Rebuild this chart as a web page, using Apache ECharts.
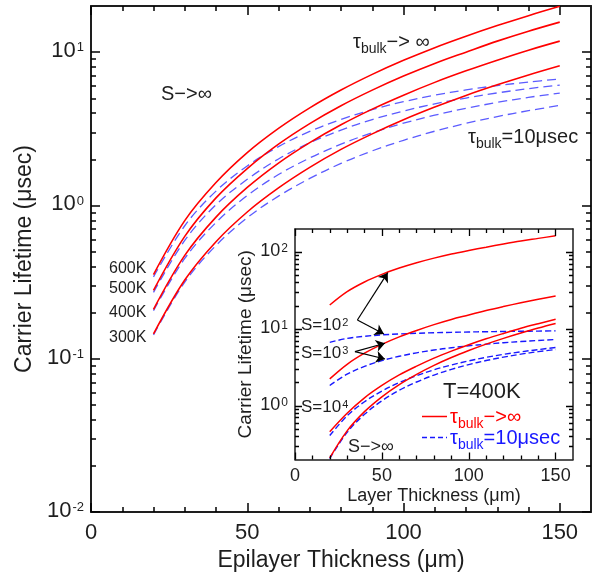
<!DOCTYPE html>
<html><head><meta charset="utf-8">
<script src="https://cdn.jsdelivr.net/npm/echarts@6/dist/echarts.min.js"></script>
<style>html,body{margin:0;padding:0;background:#fff}#c{width:592px;height:577px}</style>
</head><body><div id="c"></div>
<script>
const FONT = "'Liberation Sans', Arial, Helvetica, sans-serif";

// Epilayer thickness (µm)
const thickness = [20,30,40,50,60,70,80,90,100,110,120,130,140,150];

// Main plot, S -> infinity; tau_bulk -> infinity (solid red)
const red600 = [0.354,0.796,1.41,2.21,3.18,4.33,5.66,7.16,8.84,10.7,12.7,14.9,17.3,19.9];
const red500 = [0.279,0.628,1.12,1.74,2.51,3.42,4.47,5.65,6.98,8.44,10.0,11.8,13.7,15.7];
const red400 = [0.210,0.472,0.839,1.31,1.89,2.57,3.36,4.25,5.24,6.35,7.55,8.86,10.3,11.8];
const red300 = [0.145,0.326,0.580,0.906,1.30,1.77,2.32,2.93,3.62,4.38,5.22,6.12,7.10,8.15];
// tau_bulk = 10 µsec (dashed blue)
const blue600 = [0.342,0.737,1.24,1.81,2.42,3.04,3.64,4.22,4.75,5.24,5.67,6.05,6.38,6.68];
const blue500 = [0.271,0.591,1.01,1.48,2.01,2.56,3.10,3.63,4.13,4.60,5.02,5.42,5.78,6.10];
const blue400 = [0.206,0.451,0.774,1.16,1.59,2.04,2.51,2.98,3.44,3.88,4.30,4.70,5.07,5.41];
const blue300 = [0.143,0.316,0.548,0.831,1.15,1.50,1.88,2.27,2.66,3.05,3.43,3.80,4.15,4.49];

// Inset (T = 400K)
const insetRedS2  = [20.5,30.6,40.9,51.4,62.0,72.7,83.5,94.4,105,116,128,140,151,163];
const insetBlueS2 = [6.70,7.53,8.03,8.37,8.61,8.79,8.93,9.04,9.13,9.21,9.27,9.33,9.38,9.45];
const insetRedS3  = [2.24,3.47,4.84,6.31,7.89,9.57,11.4,13.3,15.2,17.4,19.6,21.9,24.3,26.8];
const insetBlueS3 = [1.84,2.58,3.26,3.87,4.41,4.89,5.32,5.70,6.04,6.34,6.62,6.86,7.08,7.30];
const insetRedS4  = [0.46,0.80,1.27,1.84,2.52,3.28,4.17,5.15,6.24,7.45,8.75,10.2,11.7,13.35];
const insetBlueS4 = [0.41,0.74,1.13,1.55,2.01,2.47,2.94,3.40,3.84,4.27,4.67,5.04,5.39,5.75];
const insetRedSinf  = [0.210,0.472,0.839,1.31,1.89,2.57,3.36,4.25,5.24,6.35,7.55,8.86,10.3,11.8];
const insetBlueSinf = [0.206,0.451,0.774,1.16,1.59,2.04,2.51,2.98,3.44,3.88,4.30,4.70,5.07,5.41];

// Inset arrows [from, to] in (thickness, lifetime)
const arrowsS2 = [[[35.9,13.1],[53.4,54]], [[35.9,13.1],[51.2,8.6]]];
const arrowsS3 = [[[34.5,5.06],[51.8,6.52]], [[34.5,5.06],[51.8,4.06]]];

// Ticks
const xMajor = [0,50,100,150];
const xMinor = [10,20,30,40,60,70,80,90,110,120,130,140];
const mainYMajor = [0.01,0.1,1,10];
const mainYMinor = [0.02,0.03,0.04,0.05,0.06,0.07,0.08,0.09,0.2,0.3,0.4,0.5,0.6,0.7,0.8,0.9,2,3,4,5,6,7,8,9];
const insetYMajor = [1,10,100];
const insetYMinor = [0.3,0.4,0.5,0.6,0.7,0.8,0.9,2,3,4,5,6,7,8,9,20,30,40,50,60,70,80,90];

const XMIN = 0, XMAX = 160, MAIN_YMIN = 0.01, MAIN_YMAX = 20, INSET_YMIN = 0.2, INSET_YMAX = 200;
const MAIN_GRID = {left:91, right:1, top:6, bottom:62};
const INSET_GRID = {left:295, right:19, top:229, bottom:117.5};
const W = 592, H = 577;

const pair = arr => thickness.map((x,i)=>[x,arr[i]]);
const INK = '#1e1e1e';
const RED = '#ff0000', MBLUE = '#5c5cff', IBLUE = '#1818ff';
const chart = echarts.init(document.getElementById('c'));

function xAx(grid, pos, lw, label, name, z) {
  return {type:'value', gridIndex:grid, position:pos, min:XMIN, max:XMAX, z:z,
    axisLine:{show:true, onZero:false, lineStyle:{color:INK, width:lw}}, axisTick:{show:false},
    axisLabel: label ? {show:true, customValues:xMajor, color:INK, fontFamily:FONT, fontSize:label.size, margin:label.margin} : {show:false},
    splitLine:{show:false},
    name: name ? name.text : '', nameLocation:'middle', nameGap: name ? name.gap : 15,
    nameTextStyle: name ? {fontSize:name.size, fontFamily:FONT, color:INK} : {}};
}
function yAx(grid, pos, min, max, lw, label, name, z, majors) {
  return {type:'log', gridIndex:grid, position:pos, min:min, max:max, z:z,
    axisLine:{show:true, onZero:false, lineStyle:{color:INK, width:lw}}, axisTick:{show:false},
    axisLabel: label ? {show:true, customValues:majors, color:INK, margin:7,
      formatter: v => '{b|10}{s|' + Math.round(Math.log10(v)) + '}',
      rich:{
        b:{fontSize:label.big, fontFamily:FONT, color:INK, lineHeight:label.big+2, verticalAlign:'top'},
        s:{fontSize:label.sup, fontFamily:FONT, color:INK, lineHeight:label.sup+1, verticalAlign:'top', padding:[1,0,0,1]}}} : {show:false},
    splitLine:{show:false},
    name: name ? name.text : '', nameLocation:'middle', nameGap: name ? name.gap : 15,
    nameTextStyle: name ? {fontSize:name.size, fontFamily:FONT, color:INK} : {}};
}

// Tick segments in data space (length converted from pixels via the grid size)
function tickSegments(g, ymin, ymax, yMaj, yMin, majLen, minLen) {
  const pxPerX = (W - g.left - g.right) / (XMAX - XMIN);
  const pxPerDec = (H - g.top - g.bottom) / Math.log10(ymax / ymin);
  const segs = [];
  const xt = (v, L) => {
    const f = Math.pow(10, L / pxPerDec);
    segs.push({coords:[[v, ymin], [v, ymin * f]]});
    segs.push({coords:[[v, ymax], [v, ymax / f]]});
  };
  const yt = (v, L) => {
    const dx = L / pxPerX;
    segs.push({coords:[[XMIN, v], [XMIN + dx, v]]});
    segs.push({coords:[[XMAX, v], [XMAX - dx, v]]});
  };
  xMajor.forEach(v => xt(v, majLen)); xMinor.forEach(v => xt(v, minLen));
  yMaj.forEach(v => yt(v, majLen)); yMin.forEach(v => yt(v, minLen));
  return segs;
}
function tickSeries(ai, data, z, lw) {
  return {type:'lines', coordinateSystem:'cartesian2d', xAxisIndex:ai, yAxisIndex:ai, z:z,
    symbol:'none', large:false, silent:true, animation:false,
    lineStyle:{color:'#000', width:lw, opacity:1, curveness:0}, data:data};
}
function line(data, color, width, dash, ai, z) {
  return {type:'line', data:pair(data), xAxisIndex:ai, yAxisIndex:ai, smooth:0.35,
    showSymbol:false, z:z, animation:false,
    lineStyle:{color:color, width:width, type: dash || 'solid'}};
}

function txt(x, y, text, size, fill, rich) {
  const st = {text:text, fontSize:size, fontFamily:FONT, fill:fill || INK, align:'left', verticalAlign:'middle'};
  if (rich) st.rich = rich;
  return {type:'text', x:x, y:y, z:20, style:st};
}
function tauRich(big, sub, pad, fill) {
  return {
    t:{fontSize:big, fontFamily:FONT, fill:fill, lineHeight:big+2, verticalAlign:'top'},
    b:{fontSize:sub, fontFamily:FONT, fill:fill, lineHeight:sub+2, verticalAlign:'top', padding:[pad,0,0,0]}
  };
}
function supRich(big, sup, fill) {
  return {
    t:{fontSize:big, fontFamily:FONT, fill:fill, lineHeight:big+2, verticalAlign:'top'},
    s:{fontSize:sup, fontFamily:FONT, fill:fill, lineHeight:sup+1, verticalAlign:'top', padding:[1,0,0,1]}
  };
}

chart.setOption({
  animation:false, backgroundColor:'#fff', textStyle:{fontFamily:FONT},
  grid:[Object.assign({show:false}, MAIN_GRID),
        Object.assign({show:true, backgroundColor:'#fff', borderWidth:0, z:4}, INSET_GRID)],
  xAxis:[
    xAx(0,'bottom',2,{size:22, margin:10},{text:'Epilayer Thickness (μm)', gap:37, size:23},1),
    xAx(0,'top',2,null,null,1),
    xAx(1,'bottom',1.5,{size:18, margin:8},{text:'Layer Thickness (μm)', gap:28, size:18},5),
    xAx(1,'top',1.5,null,null,5)],
  yAxis:[
    yAx(0,'left',MAIN_YMIN,MAIN_YMAX,2,{big:22, sup:13},{text:'Carrier Lifetime (μsec)', gap:51, size:23},1,mainYMajor),
    yAx(0,'right',MAIN_YMIN,MAIN_YMAX,2,null,null,1),
    yAx(1,'left',INSET_YMIN,INSET_YMAX,1.5,{big:18, sup:12},{text:'Carrier Lifetime (μsec)', gap:40, size:19},5,insetYMajor),
    yAx(1,'right',INSET_YMIN,INSET_YMAX,1.5,null,null,5)],
  series:[
    tickSeries(0, tickSegments(MAIN_GRID,MAIN_YMIN,MAIN_YMAX,mainYMajor,mainYMinor,9,5), 3, 1.5),
    line(blue600,MBLUE,1.3,[9,5],0,2), line(blue500,MBLUE,1.3,[9,5],0,2),
    line(blue400,MBLUE,1.3,[9,5],0,2), line(blue300,MBLUE,1.3,[9,5],0,2),
    line(red600,RED,1.6,null,0,3), line(red500,RED,1.6,null,0,3),
    line(red400,RED,1.6,null,0,3), line(red300,RED,1.6,null,0,3),
    tickSeries(2, tickSegments(INSET_GRID,INSET_YMIN,INSET_YMAX,insetYMajor,insetYMinor,7,4), 8, 1.3),
    line(insetBlueS2,IBLUE,1.4,[6,3],2,6), line(insetBlueS3,IBLUE,1.4,[6,3],2,6),
    line(insetBlueS4,IBLUE,1.4,[6,3],2,6), line(insetBlueSinf,IBLUE,1.4,[6,3],2,6),
    line(insetRedS2,RED,1.5,null,2,7), line(insetRedS3,RED,1.5,null,2,7),
    line(insetRedS4,RED,1.5,null,2,7), line(insetRedSinf,RED,1.5,null,2,7),
    {type:'lines', coordinateSystem:'cartesian2d', xAxisIndex:2, yAxisIndex:2, z:8,
     symbol:['none','arrow'], symbolSize:9,
     lineStyle:{color:'#000', width:1.2, opacity:1},
     data: arrowsS2.concat(arrowsS3).map(c => ({coords:c}))}
  ],
  graphic:[
    txt(161, 94, 'S−>∞', 20),
    txt(353, 43, '{t|τ}{b|bulk}{t|−> ∞}', 20, INK, tauRich(20,14,10,INK)),
    txt(468, 138, '{t|τ}{b|bulk}{t|=10μsec}', 20, INK, tauRich(20,14,10,INK)),
    txt(109, 269, '600K', 16),
    txt(109, 289, '500K', 16),
    txt(109, 313, '400K', 16),
    txt(109, 338, '300K', 16),
    txt(301, 326, '{t|S=10}{s|2}', 17, INK, supRich(17,11,INK)),
    txt(301, 354, '{t|S=10}{s|3}', 17, INK, supRich(17,11,INK)),
    txt(301, 408, '{t|S=10}{s|4}', 17, INK, supRich(17,11,INK)),
    txt(348, 447, 'S−>∞', 18),
    txt(443, 392, 'T=400K', 22),
    {type:'line', z:20, shape:{x1:422,y1:416.5,x2:447,y2:416.5}, style:{stroke:RED, lineWidth:1.5}},
    {type:'line', z:20, shape:{x1:422,y1:437.5,x2:447,y2:437.5}, style:{stroke:IBLUE, lineWidth:1.4, lineDash:[5,3]}},
    txt(450, 418, '{t|τ}{b|bulk}{t|−>∞}', 20, RED, tauRich(20,14,10,RED)),
    txt(450, 439, '{t|τ}{b|bulk}{t|=10μsec}', 20, IBLUE, tauRich(20,14,10,IBLUE))
  ]
});
</script></body></html>
